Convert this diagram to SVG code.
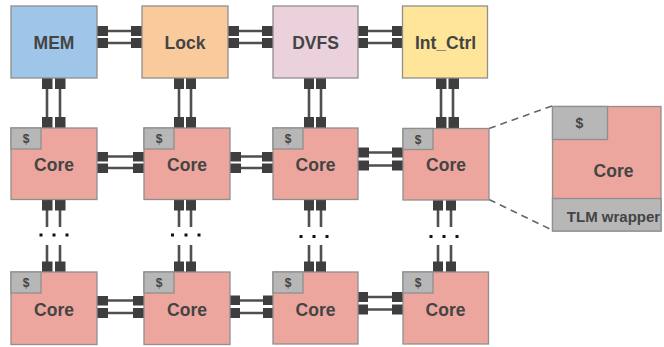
<svg xmlns="http://www.w3.org/2000/svg" width="664" height="347" viewBox="0 0 664 347">
<style>
.box{stroke:#8f8f8f;stroke-width:1.3}
.core{fill:#eca69d}
.cache{fill:#b7b7b7}
.port{fill:#3e3e3e}
.wire{stroke:#4f4f4f;stroke-width:2.6;fill:none}
.dot{fill:#111}
.dash{stroke:#666;stroke-width:1.6;stroke-dasharray:7 5;fill:none}
.lbl{font-family:"Liberation Sans",Arial,sans-serif;font-weight:bold;fill:#444;text-anchor:middle;font-size:17.5px}
.sm{font-size:12px}
</style>
<rect width="664" height="347" fill="#fff"/>

<g id="connectors">
  <!-- row 0 horizontal -->
  <path class="wire" d="M108 31H131M108 43H131M239 31H262M239 43H262M368 31H392M368 43H392"/>
  <rect class="port" x="97" y="26" width="11" height="10"/><rect class="port" x="97" y="38" width="11" height="10"/>
  <rect class="port" x="131" y="26" width="11" height="10"/><rect class="port" x="131" y="38" width="11" height="10"/>
  <rect class="port" x="228" y="26" width="11" height="10"/><rect class="port" x="228" y="38" width="11" height="10"/>
  <rect class="port" x="262" y="26" width="11" height="10"/><rect class="port" x="262" y="38" width="11" height="10"/>
  <rect class="port" x="357" y="26" width="11" height="10"/><rect class="port" x="357" y="38" width="11" height="10"/>
  <rect class="port" x="392" y="26" width="11" height="10"/><rect class="port" x="392" y="38" width="11" height="10"/>
  <!-- row 1 horizontal -->
  <path class="wire" d="M108 156.5H133M108 168H133M241 156.5H262M241 168H262M368 152.5H392M368 165.5H392"/>
  <rect class="port" x="97" y="152" width="11" height="9.5"/><rect class="port" x="97" y="163.5" width="11" height="9.5"/>
  <rect class="port" x="133" y="152" width="11" height="9.5"/><rect class="port" x="133" y="163.5" width="11" height="9.5"/>
  <rect class="port" x="230" y="152" width="11" height="9.5"/><rect class="port" x="230" y="163.5" width="11" height="9.5"/>
  <rect class="port" x="262" y="152" width="11" height="9.5"/><rect class="port" x="262" y="163.5" width="11" height="9.5"/>
  <rect class="port" x="358" y="147.5" width="11" height="10"/><rect class="port" x="358" y="160.5" width="11" height="10"/>
  <rect class="port" x="392" y="147.5" width="11" height="10"/><rect class="port" x="392" y="160.5" width="11" height="10"/>
  <!-- row 2 horizontal -->
  <path class="wire" d="M108 300.5H133M108 313H133M240 300.5H263M240 313H263M368 297H392M368 309.5H392"/>
  <rect class="port" x="97" y="296" width="11" height="9.5"/><rect class="port" x="97" y="308" width="11" height="10"/>
  <rect class="port" x="133" y="296" width="11" height="9.5"/><rect class="port" x="133" y="308" width="11" height="10"/>
  <rect class="port" x="230" y="295.5" width="10" height="9.5"/><rect class="port" x="230" y="308" width="10" height="10"/>
  <rect class="port" x="263" y="295.5" width="10" height="9.5"/><rect class="port" x="263" y="308" width="10" height="10"/>
  <rect class="port" x="357" y="292" width="11" height="10"/><rect class="port" x="357" y="304.5" width="11" height="10"/>
  <rect class="port" x="392" y="292" width="11" height="10"/><rect class="port" x="392" y="304.5" width="11" height="10"/>

  <!-- vertical: top row to row 1 -->
  <path class="wire" d="M47 89V117M60 89V117M179 89V117M191 89V117M309 89V117M321 89V117M441 89V117M453 89V117"/>
  <rect class="port" x="42" y="78" width="10.5" height="11"/><rect class="port" x="55" y="78" width="10.5" height="11"/>
  <rect class="port" x="42" y="117" width="10.5" height="11"/><rect class="port" x="55" y="117" width="10.5" height="11"/>
  <rect class="port" x="174" y="78" width="10" height="11"/><rect class="port" x="186" y="78" width="10" height="11"/>
  <rect class="port" x="174" y="117" width="10" height="11"/><rect class="port" x="186" y="117" width="10" height="11"/>
  <rect class="port" x="304" y="78" width="10" height="11"/><rect class="port" x="316" y="78" width="10" height="11"/>
  <rect class="port" x="304" y="117" width="10" height="11"/><rect class="port" x="316" y="117" width="10" height="11"/>
  <rect class="port" x="436" y="78" width="10.5" height="11"/><rect class="port" x="448.5" y="78" width="10.5" height="11"/>
  <rect class="port" x="436" y="117" width="10.5" height="11"/><rect class="port" x="448.5" y="117" width="10.5" height="11"/>

  <!-- vertical: row 1 to row 2 with ellipsis -->
  <path class="wire" d="M47 210V227M60 210V227M47 245V262M60 245V262M179 210V227M191 210V227M179 245V262M191 245V262M309 210V227M321 210V227M309 245V262M321 245V262M438 210V227M451 210V227M438 245V262M451 245V262"/>
  <rect class="port" x="42" y="200" width="10.5" height="10.5"/><rect class="port" x="55" y="200" width="10.5" height="10.5"/>
  <rect class="port" x="42" y="261.5" width="10.5" height="10.5"/><rect class="port" x="55" y="261.5" width="10.5" height="10.5"/>
  <rect class="port" x="174" y="200" width="10" height="10.5"/><rect class="port" x="186" y="200" width="10" height="10.5"/>
  <rect class="port" x="174" y="261.5" width="10" height="10.5"/><rect class="port" x="186" y="261.5" width="10" height="10.5"/>
  <rect class="port" x="304" y="200" width="10" height="10.5"/><rect class="port" x="316" y="200" width="10" height="10.5"/>
  <rect class="port" x="304" y="261.5" width="10" height="10.5"/><rect class="port" x="316" y="261.5" width="10" height="10.5"/>
  <rect class="port" x="433" y="200" width="10" height="10.5"/><rect class="port" x="446" y="200" width="10" height="10.5"/>
  <rect class="port" x="433" y="261.5" width="10" height="10.5"/><rect class="port" x="446" y="261.5" width="10" height="10.5"/>
  <rect class="dot" x="39.5" y="233.5" width="3" height="3"/><rect class="dot" x="52.5" y="233.5" width="3" height="3"/><rect class="dot" x="65.5" y="233.5" width="3" height="3"/>
  <rect class="dot" x="171" y="233.5" width="3" height="3"/><rect class="dot" x="184.5" y="233.5" width="3" height="3"/><rect class="dot" x="197.5" y="233.5" width="3" height="3"/>
  <rect class="dot" x="299.5" y="235" width="3" height="3"/><rect class="dot" x="312.5" y="235" width="3" height="3"/><rect class="dot" x="325.5" y="235" width="3" height="3"/>
  <rect class="dot" x="429.5" y="235" width="3" height="3"/><rect class="dot" x="442.5" y="235" width="3" height="3"/><rect class="dot" x="455.5" y="235" width="3" height="3"/>

  <!-- zoom-out dashed lines -->
  <path class="dash" d="M489 128.5L552 106M489 199.5L552 230"/>
</g>

<g id="mem"><rect class="box" x="11" y="6" width="86" height="72" fill="#9fc5e8"/><text class="lbl" x="54" y="48.5">MEM</text></g>
<g id="lock"><rect class="box" x="142" y="6" width="86" height="72" fill="#f9cb9c"/><text class="lbl" x="185" y="48.5">Lock</text></g>
<g id="dvfs"><rect class="box" x="273" y="6" width="85" height="72" fill="#ead1dc"/><text class="lbl" x="315.5" y="48.5">DVFS</text></g>
<g id="int_ctrl"><rect class="box" x="402.5" y="6" width="85" height="72" fill="#ffe599"/><text class="lbl" x="445.5" y="48.5">Int_Ctrl</text></g>

<g id="core_1_1"><rect class="box core" x="11" y="128" width="86" height="71.5"/><rect class="box cache" x="11" y="128" width="30" height="21"/><text class="lbl sm" x="26" y="143">$</text><text class="lbl" x="54" y="170.5">Core</text></g>
<g id="core_1_2"><rect class="box core" x="144" y="128" width="86" height="71.5"/><rect class="box cache" x="144" y="128" width="30" height="21"/><text class="lbl sm" x="159" y="143">$</text><text class="lbl" x="187" y="170.5">Core</text></g>
<g id="core_1_3"><rect class="box core" x="273" y="128" width="85" height="71.5"/><rect class="box cache" x="273" y="128" width="30" height="21"/><text class="lbl sm" x="288" y="143">$</text><text class="lbl" x="315.5" y="170.5">Core</text></g>
<g id="core_1_4"><rect class="box core" x="403" y="128.5" width="86" height="71.5"/><rect class="box cache" x="403" y="128.5" width="30" height="21"/><text class="lbl sm" x="418" y="143.5">$</text><text class="lbl" x="446" y="171">Core</text></g>

<g id="core_2_1"><rect class="box core" x="11" y="272" width="86" height="72.5"/><rect class="box cache" x="11" y="272" width="30" height="21"/><text class="lbl sm" x="26" y="287">$</text><text class="lbl" x="54" y="316">Core</text></g>
<g id="core_2_2"><rect class="box core" x="144" y="272" width="86" height="72.5"/><rect class="box cache" x="144" y="272" width="30" height="21"/><text class="lbl sm" x="159" y="287">$</text><text class="lbl" x="187" y="316">Core</text></g>
<g id="core_2_3"><rect class="box core" x="273" y="272" width="85" height="72"/><rect class="box cache" x="273" y="272" width="30" height="21"/><text class="lbl sm" x="288" y="287">$</text><text class="lbl" x="315.5" y="315.5">Core</text></g>
<g id="core_2_4"><rect class="box core" x="403" y="272" width="85.5" height="72"/><rect class="box cache" x="403" y="272" width="30" height="21"/><text class="lbl sm" x="418" y="287">$</text><text class="lbl" x="445.5" y="315.5">Core</text></g>

<g id="core_detail">
  <rect class="box core" x="552.5" y="106.5" width="108.5" height="124.5"/>
  <rect class="box cache" x="552.5" y="106.5" width="55" height="33"/>
  <rect class="box cache" x="552.5" y="198.5" width="108.5" height="32.5"/>
  <text class="lbl" style="font-size:14px" x="579.5" y="128">$</text>
  <text class="lbl" x="613.5" y="176.5">Core</text>
  <text class="lbl" style="font-size:15px" x="613.5" y="221.5">TLM wrapper</text>
</g>
</svg>
